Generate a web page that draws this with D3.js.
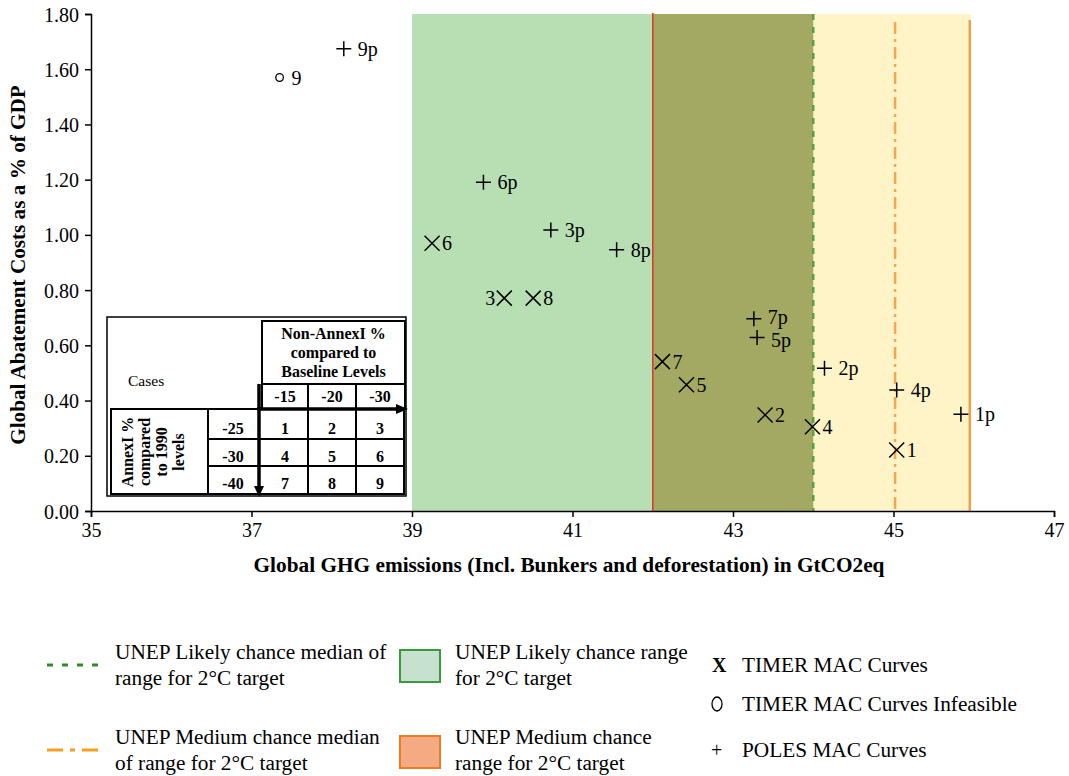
<!DOCTYPE html>
<html><head><meta charset="utf-8">
<script src="https://cdn.jsdelivr.net/npm/d3@7"></script>
<style>body{margin:0;background:#fff} svg{display:block} text{font-family:"Liberation Serif","Times New Roman",serif;fill:#000}</style>
</head><body><svg id="c" width="1069" height="776"></svg>
<script>
// ---------- DATA ----------
const timerNames = ["1","2","3","4","5","6","7","8"];
const timerX = [45.04, 43.40, 40.15, 43.99, 42.42, 39.25, 42.12, 40.51];
const timerY = [0.221, 0.348, 0.771, 0.305, 0.457, 0.970, 0.541, 0.771];

const infeasibleNames = ["9"];
const infeasibleX = [37.35];
const infeasibleY = [1.570];

const polesNames = ["1p","2p","3p","4p","5p","6p","7p","8p","9p"];
const polesX = [45.84, 44.14, 40.73, 45.04, 43.30, 39.89, 43.26, 41.55, 38.15];
const polesY = [0.350, 0.517, 1.018, 0.438, 0.628, 1.191, 0.696, 0.946, 1.674];

const likelyRange = [39.0, 44.0];
const likelyMedian = 44.0;
const mediumRange = [42.0, 45.95];
const mediumMedian = 45.02;

const xTicks = [35, 37, 39, 41, 43, 45, 47];
const yTicks = [0, 0.2, 0.4, 0.6, 0.8, 1.0, 1.2, 1.4, 1.6, 1.8];

const nonAnnexLevels = ["-15", "-20", "-30"];
const annexLevels = ["-25", "-30", "-40"];
const caseGrid = [["1","2","3"],["4","5","6"],["7","8","9"]];

const xTitle = "Global GHG emissions (Incl. Bunkers and deforestation) in GtCO2eq";
const yTitle = "Global Abatement Costs as a % of GDP";

// ---------- CHART ----------
const FONT = '"Liberation Serif","Times New Roman",serif';
const svg = d3.select("#c");
const x = d3.scaleLinear().domain([35, 47]).range([91, 1054]);
const y = d3.scaleLinear().domain([0, 1.8]).range([511, 14]);
const yTop = y(1.8), yBot = y(0);

// bands
const bands = [
  {a: likelyRange[0], b: mediumRange[0], fill: "#b8dfb4"},
  {a: mediumRange[0], b: likelyRange[1], fill: "#a3a962"},
  {a: likelyRange[1], b: mediumRange[1], fill: "#fff4c8"}
];
svg.append("g").selectAll("rect").data(bands).join("rect")
  .attr("x", d => x(d.a)).attr("width", d => x(d.b) - x(d.a) + 1)
  .attr("y", yTop).attr("height", yBot - yTop).attr("fill", d => d.fill);

// vertical lines
const vlines = [
  {v: mediumRange[0], top: yTop - 1, color: "#e3352a", w: 1.5, dash: null},
  {v: likelyMedian, top: yTop, color: "#55a33e", w: 2.5, dash: "6,7"},
  {v: mediumMedian, top: yTop + 8, color: "#f7a550", w: 2.5, dash: "12,5,3,5"},
  {v: mediumRange[1], top: yTop + 6, color: "#f5a040", w: 2.5, dash: null}
];
svg.append("g").selectAll("line").data(vlines).join("line")
  .attr("x1", d => x(d.v)).attr("x2", d => x(d.v))
  .attr("y1", d => d.top).attr("y2", yBot)
  .attr("stroke", d => d.color).attr("stroke-width", d => d.w)
  .attr("stroke-dasharray", d => d.dash);

// axes
const xAxis = svg.append("g").attr("transform", `translate(0,${yBot})`)
  .call(d3.axisBottom(x).tickValues(xTicks).tickSize(6).tickPadding(6).tickFormat(d3.format("d")));
const yAxis = svg.append("g").attr("transform", `translate(${x(35)},0)`)
  .call(d3.axisLeft(y).tickValues(yTicks).tickSize(6).tickPadding(6).tickFormat(d3.format(".2f")));
[xAxis, yAxis].forEach(a => {
  a.attr("font-family", null).style("font-family", FONT);
  a.select(".domain").attr("stroke", "#000").attr("stroke-width", 1.5);
  a.selectAll(".tick line").attr("stroke", "#000").attr("stroke-width", 1.5);
  a.selectAll(".tick text").attr("font-size", 20).style("font-family", FONT).style("font-size", "20px");
});
yAxis.selectAll(".tick text").attr("dy", "0.35em");

// axis titles
svg.append("text").attr("x", 569).attr("y", 572).attr("text-anchor", "middle")
  .attr("font-size", 21.3).attr("font-weight", "bold").text(xTitle);
svg.append("text").attr("transform", "translate(25,265) rotate(-90)").attr("text-anchor", "middle")
  .attr("font-size", 21.2).attr("font-weight", "bold").text(yTitle);

// markers
const timer = timerNames.map((n, i) => ({n, x: timerX[i], y: timerY[i]}));
const infeasible = infeasibleNames.map((n, i) => ({n, x: infeasibleX[i], y: infeasibleY[i]}));
const poles = polesNames.map((n, i) => ({n, x: polesX[i], y: polesY[i]}));
const leftLabels = new Set(["3"]);
const nudge = {"7p": -2, "5p": 2};

const mk = svg.append("g");
const s = 7.5;
mk.selectAll("path.x").data(timer).join("path").attr("class", "x")
  .attr("d", d => { const cx = x(d.x), cy = y(d.y);
    return `M${cx-s},${cy-s}L${cx+s},${cy+s}M${cx-s},${cy+s}L${cx+s},${cy-s}`; })
  .attr("stroke", "#000").attr("stroke-width", 1.5).attr("fill", "none");
mk.selectAll("path.p").data(poles).join("path").attr("class", "p")
  .attr("d", d => { const cx = x(d.x), cy = y(d.y);
    return `M${cx-s},${cy}L${cx+s},${cy}M${cx},${cy-s}L${cx},${cy+s}`; })
  .attr("stroke", "#000").attr("stroke-width", 1.5).attr("fill", "none");
mk.selectAll("circle").data(infeasible).join("circle")
  .attr("cx", d => x(d.x)).attr("cy", d => y(d.y)).attr("r", 3.8)
  .attr("fill", "none").attr("stroke", "#000").attr("stroke-width", 1.3);

const lab = svg.append("g").attr("font-size", 20);
lab.selectAll("text.t").data(timer).join("text").attr("class", "t")
  .attr("x", d => leftLabels.has(d.n) ? x(d.x) - 9 : x(d.x) + 10)
  .attr("y", d => y(d.y)).attr("dy", "0.35em")
  .attr("text-anchor", d => leftLabels.has(d.n) ? "end" : "start").text(d => d.n);
lab.selectAll("text.p").data(poles).join("text").attr("class", "p")
  .attr("x", d => x(d.x) + 14).attr("y", d => y(d.y) + (nudge[d.n] || 0)).attr("dy", "0.35em").text(d => d.n);
lab.selectAll("text.c").data(infeasible).join("text").attr("class", "c")
  .attr("x", d => x(d.x) + 12).attr("y", d => y(d.y)).attr("dy", "0.35em").text(d => d.n);

// ---------- CASE TABLE ----------
const tb = svg.append("g");
tb.append("rect").attr("x", 107).attr("y", 317).attr("width", 299).attr("height", 179)
  .attr("fill", "#fff").attr("stroke", "#000").attr("stroke-width", 1.5);
const ln = (x1, y1, x2, y2, w) => tb.append("line").attr("x1", x1).attr("y1", y1).attr("x2", x2).attr("y2", y2)
  .attr("stroke", "#000").attr("stroke-width", w || 2);
tb.append("rect").attr("x", 262).attr("y", 321).attr("width", 143).attr("height", 63)
  .attr("fill", "none").attr("stroke", "#000").attr("stroke-width", 2);
ln(262, 384, 262, 409); ln(405, 384, 405, 409);
ln(308, 384, 308, 409); ln(356, 384, 356, 409);
tb.append("rect").attr("x", 111).attr("y", 409).attr("width", 293).attr("height", 85)
  .attr("fill", "none").attr("stroke", "#000").attr("stroke-width", 2);
ln(208, 409, 208, 494); ln(308, 409, 308, 494); ln(356, 409, 356, 494);
ln(208, 439, 404, 439); ln(208, 466, 404, 466);
// arrows
ln(257, 409, 398, 409, 3.5);
tb.append("path").attr("d", "M396,404L408,409L396,414Z").attr("fill", "#000");
ln(259, 384, 259, 488, 3.5);
tb.append("path").attr("d", "M254,486L259,497L264,486Z").attr("fill", "#000");

tb.append("text").attr("x", 128).attr("y", 386).attr("font-size", 15.5).text("Cases");
const tf = tb.append("g").attr("font-size", 16).attr("font-weight", "bold").attr("text-anchor", "middle");
["Non-AnnexI %", "compared to", "Baseline Levels"].forEach((t, i) =>
  tf.append("text").attr("x", 333.5).attr("y", 339 + i * 19).text(t));
const colC = [285, 332, 380];
tf.selectAll("text.nl").data(nonAnnexLevels).join("text").attr("class", "nl")
  .attr("x", (d, i) => colC[i]).attr("y", 402).text(d => d);
const rowB = [434, 462, 489];
tf.selectAll("text.al").data(annexLevels).join("text").attr("class", "al")
  .attr("x", 233).attr("y", (d, i) => rowB[i]).text(d => d);
caseGrid.forEach((row, r) => row.forEach((c, k) =>
  tf.append("text").attr("x", colC[k]).attr("y", rowB[r]).text(c)));
["AnnexI %", "compared", "to 1990", "levels"].forEach((t, i) =>
  tf.append("text").attr("transform", `translate(${133 + i * 17},452) rotate(-90)`).text(t));

// ---------- LEGEND ----------
const lg = svg.append("g").attr("font-size", 21.3);
lg.append("line").attr("x1", 47).attr("x2", 103).attr("y1", 665).attr("y2", 665)
  .attr("stroke", "#2f8a2f").attr("stroke-width", 3).attr("stroke-dasharray", "6,9");
lg.append("line").attr("x1", 47).attr("x2", 103).attr("y1", 750).attr("y2", 750)
  .attr("stroke", "#f5a020").attr("stroke-width", 3).attr("stroke-dasharray", "16,7,5,7");
const lt = (xx, yy, t) => lg.append("text").attr("x", xx).attr("y", yy).text(t);
lt(115, 659, "UNEP Likely chance median of"); lt(115, 685, "range for 2°C target");
lt(115, 744, "UNEP Medium chance median"); lt(115, 770, "of range for 2°C target");
lg.append("rect").attr("x", 400).attr("y", 650).attr("width", 40).attr("height", 32)
  .attr("fill", "#c6e1cd").attr("stroke", "#3a9a3a").attr("stroke-width", 2);
lg.append("rect").attr("x", 400).attr("y", 736).attr("width", 40).attr("height", 32)
  .attr("fill", "#f5ab82").attr("stroke", "#f07a20").attr("stroke-width", 2);
lt(455, 659, "UNEP Likely chance range"); lt(455, 685, "for 2°C target");
lt(455, 744, "UNEP Medium chance"); lt(455, 770, "range for 2°C target");
lg.append("text").attr("x", 712).attr("y", 672).attr("font-weight", "bold").attr("font-size", 20).text("X");
lt(742, 672, "TIMER MAC Curves");
lg.append("ellipse").attr("cx", 717).attr("cy", 704).attr("rx", 5).attr("ry", 7)
  .attr("fill", "none").attr("stroke", "#000").attr("stroke-width", 1.3);
lt(742, 711, "TIMER MAC Curves Infeasible");
lg.append("text").attr("x", 711).attr("y", 757).attr("font-size", 20).text("+");
lt(742, 757, "POLES MAC Curves");
</script></body></html>
